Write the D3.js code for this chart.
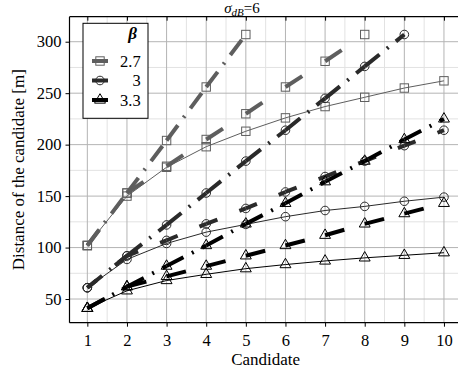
<!DOCTYPE html>
<html><head><meta charset="utf-8">
<script src="https://cdn.jsdelivr.net/npm/d3@7"></script>
<style>
body{margin:0;background:#fff}
svg{display:block}
svg text{font-family:"Liberation Serif","Times New Roman",Times,"DejaVu Serif",serif !important}
</style>
</head><body>
<svg id="chart" width="458" height="376"></svg>
<script>
// Candidate index on the x axis
const candidates = [1, 2, 3, 4, 5, 6, 7, 8, 9, 10];
const betaLabels = ["2.7", "3", "3.3"];
const xTicks = [1, 2, 3, 4, 5, 6, 7, 8, 9, 10];
const yTicks = [50, 100, 150, 200, 250, 300];

// beta = 2.7
const solid27   = [102, 150, 178, 198, 213, 226, 237, 246, 255, 262];
const dashed27  = [102, 153, 179, 205, 230, 256, 281, 307];
const dashdot27 = [102, 153, 204, 256, 307];
// beta = 3
const solid30   = [61, 88.5, 104, 115, 122.5, 130, 136, 140, 145, 149];
const dashed30  = [61, 92, 107, 123, 138, 154, 169, 184, 199, 214];
const dashdot30 = [61, 92, 122, 153, 184, 214, 245, 276, 307];
// beta = 3.3
const solid33   = [41, 58, 68, 74, 79.5, 83.5, 87, 90, 92.5, 95];
const dashed33  = [41, 62, 72, 82, 92, 102, 112, 123, 133, 143];
const dashdot33 = [41, 62, 82, 102, 123, 143, 164, 184, 205, 225];

const colors = ["#5e5e5e", "#2a2a2a", "#000000"];
const shapes = ["square", "circle", "triangle"];

const series = [
  {b: 0, values: solid27,   style: "solid"},
  {b: 0, values: dashed27,  style: "dashed"},
  {b: 0, values: dashdot27, style: "dashdot"},
  {b: 1, values: solid30,   style: "solid"},
  {b: 1, values: dashed30,  style: "dashed", offset: 7, dash: "19,23.6"},
  {b: 1, values: dashdot30, style: "dashdot"},
  {b: 2, values: solid33,   style: "solid"},
  {b: 2, values: dashed33,  style: "dashed"},
  {b: 2, values: dashdot33, style: "dashdot"}
];

const svg = d3.select("#chart");
const pLeft = 69.5, pRight = 461.8, pTop = 16.7, pBottom = 322.7;

const x = d3.scaleLinear().domain([0.55, 10.45]).range([pLeft, pRight]);
const y = d3.scaleLinear().domain([27, 324.3]).range([pBottom, pTop]);

// grid: minor first, then major
const grid = svg.append("g");
const xMinor = d3.range(0.5, 11, 0.5).filter(v => v % 1 !== 0 && v > 0.55 && v < 10.45);
const yMinor = d3.range(25, 325, 25).filter(v => v % 50 !== 0 && v > 27);
grid.append("g").selectAll("line").data(xMinor).join("line")
  .attr("x1", d => x(d)).attr("x2", d => x(d)).attr("y1", pTop).attr("y2", pBottom)
  .attr("stroke", "#e2e2e2").attr("stroke-width", 1);
grid.append("g").selectAll("line").data(yMinor).join("line")
  .attr("y1", d => y(d)).attr("y2", d => y(d)).attr("x1", pLeft).attr("x2", pRight)
  .attr("stroke", "#e2e2e2").attr("stroke-width", 1);
grid.append("g").selectAll("line").data(xTicks).join("line")
  .attr("x1", d => x(d)).attr("x2", d => x(d)).attr("y1", pTop).attr("y2", pBottom)
  .attr("stroke", "#b4b4b4").attr("stroke-width", 1);
grid.append("g").selectAll("line").data(yTicks).join("line")
  .attr("y1", d => y(d)).attr("y2", d => y(d)).attr("x1", pLeft).attr("x2", pRight)
  .attr("stroke", "#b4b4b4").attr("stroke-width", 1);

// axes
const xAxis = d3.axisBottom(x).tickValues(xTicks).tickSize(4).tickSizeOuter(0).tickPadding(4);
const yAxis = d3.axisLeft(y).tickValues(yTicks).tickSize(4).tickSizeOuter(0).tickPadding(4);
const gx = svg.append("g").attr("transform", `translate(0,${pBottom})`).call(xAxis);
const gy = svg.append("g").attr("transform", `translate(${pLeft},0)`).call(yAxis);
const gt = svg.append("g").attr("transform", `translate(0,${pTop})`)
  .call(d3.axisBottom(x).tickValues(xTicks).tickSize(4).tickSizeOuter(0).tickFormat(""));
[gx, gy, gt].forEach(g => {
  g.select(".domain").remove();
  g.attr("font-family", null);
  g.selectAll("line").attr("stroke", "#000");
  g.selectAll("text").attr("fill", "#000").style("font-size", "16.5px");
});
gx.selectAll("text").attr("dy", "0.9em");
svg.append("line").attr("x1", pLeft).attr("x2", pRight).attr("y1", pBottom).attr("y2", pBottom).attr("stroke", "#000").attr("stroke-width", 1.2);
svg.append("line").attr("x1", pLeft).attr("x2", pRight).attr("y1", pTop).attr("y2", pTop).attr("stroke", "#000").attr("stroke-width", 1.2);
svg.append("line").attr("x1", pLeft).attr("x2", pLeft).attr("y1", pTop).attr("y2", pBottom).attr("stroke", "#000").attr("stroke-width", 1.2);

// series lines, drawn segment by segment so each dash pattern starts at a point
const line = d3.line().x(d => x(d[0])).y(d => y(d[1]));
const lines = svg.append("g");
series.forEach(s => {
  const pts = s.values.map((v, i) => [candidates[i], v]);
  const segs = d3.pairs(pts);
  const col = colors[s.b];
  lines.append("g").selectAll("path").data(segs).join("path")
    .attr("d", d => line(d))
    .attr("fill", "none")
    .attr("stroke", col)
    .attr("stroke-width", s.style === "solid" ? 1 : 4)
    .attr("stroke-dasharray", s.style === "solid" ? null : (s.dash || (s.style === "dashed" ? "20,1000" : "19,9.5,2,9.5")))
    .attr("stroke-dashoffset", s.offset || 0);
});

function marker(g, shape, cx, cy, col) {
  if (shape === "square") {
    g.append("rect").attr("x", cx - 4.2).attr("y", cy - 4.2).attr("width", 8.4).attr("height", 8.4)
      .attr("fill", "none").attr("stroke", col).attr("stroke-width", 1);
  } else if (shape === "circle") {
    g.append("circle").attr("cx", cx).attr("cy", cy).attr("r", 4.3)
      .attr("fill", "none").attr("stroke", col).attr("stroke-width", 1);
  } else {
    const R = 6.3, h = R * Math.sqrt(3) / 2;
    g.append("path").attr("d", `M${cx},${cy - R}L${cx + h},${cy + R / 2}L${cx - h},${cy + R / 2}Z`)
      .attr("fill", "none").attr("stroke", col).attr("stroke-width", 1);
  }
}

const marks = svg.append("g");
series.forEach(s => {
  s.values.forEach((v, i) => marker(marks, shapes[s.b], x(candidates[i]), y(v), colors[s.b]));
});

// legend
const lg = svg.append("g");
lg.append("rect").attr("x", 83).attr("y", 23.3).attr("width", 65).attr("height", 95)
  .attr("fill", "#fff").attr("stroke", "#000").attr("stroke-width", 1);
lg.append("text").attr("x", 137).attr("y", 38.5).attr("text-anchor", "end")
  .style("font-size", "17px").style("font-weight", "bold").style("font-style", "italic").text("β");
const rowsY = [61, 80.5, 100];
betaLabels.forEach((lab, i) => {
  const cy = rowsY[i];
  marker(lg, shapes[i], 100, cy, colors[i]);
  lg.append("line").attr("x1", 92).attr("x2", 108).attr("y1", cy).attr("y2", cy)
    .attr("stroke", colors[i]).attr("stroke-width", 4);
  lg.append("text").attr("x", 140.7).attr("y", cy + 5.5).attr("text-anchor", "end")
    .style("font-size", "16.5px").text(lab);
});

// title and axis labels
const title = svg.append("text").attr("x", 242).attr("y", 13).attr("text-anchor", "middle").style("font-size", "15px");
title.append("tspan").style("font-style", "italic").text("σ");
title.append("tspan").style("font-style", "italic").style("font-size", "11px").attr("dy", 2.5).text("dB");
title.append("tspan").attr("dy", -2.5).text("=6");

svg.append("text").attr("x", (pLeft + pRight) / 2).attr("y", 365).attr("text-anchor", "middle")
  .style("font-size", "17px").text("Candidate");
svg.append("text").attr("transform", `translate(24,${(pTop + pBottom) / 2}) rotate(-90)`)
  .attr("text-anchor", "middle").style("font-size", "17px").text("Distance of the candidate [m]");
</script>
</body></html>
